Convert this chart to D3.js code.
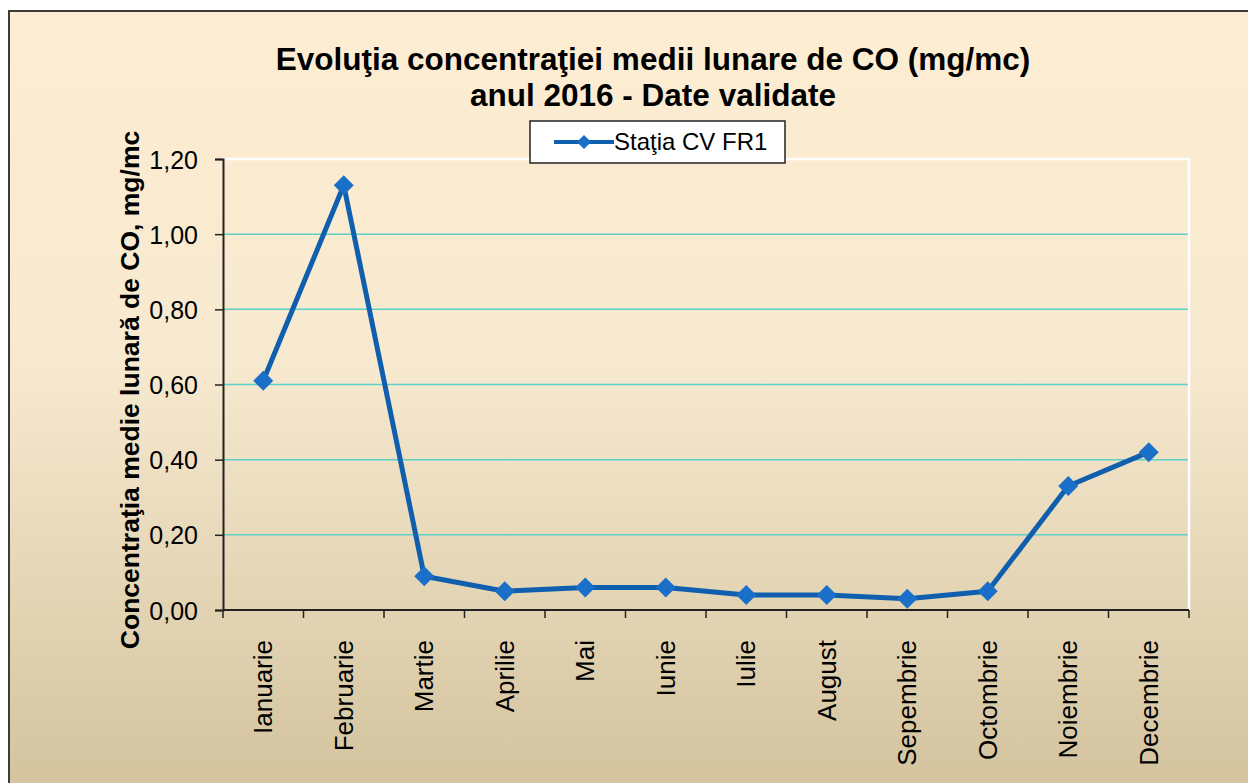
<!DOCTYPE html>
<html>
<head>
<meta charset="utf-8">
<script src="https://cdn.jsdelivr.net/npm/d3@7"></script>
<style>
	body { margin: 0; background: #ffffff; }
	svg { display: block; }
	text { font-family: "Liberation Sans", Arial, sans-serif; fill: #000; }
</style>
</head>
<body>
<svg id="chart" width="1248" height="783"></svg>
<script>
// date
var luni = ["Ianuarie", "Februarie", "Martie", "Aprilie", "Mai", "Iunie",
	"Iulie", "August", "Sepembrie", "Octombrie", "Noiembrie", "Decembrie"];
var valori = [0.61, 1.13, 0.09, 0.05, 0.06, 0.06, 0.04, 0.04, 0.03, 0.05, 0.33, 0.42];
var yTicks = [0, 0.2, 0.4, 0.6, 0.8, 1.0, 1.2];
var titlu = ["Evoluţia concentraţiei medii lunare de CO (mg/mc)", "anul 2016 - Date validate"];
var serie = "Staţia CV FR1";
var titluY = "Concentraţia medie lunară de CO, mg/mc";

var svg = d3.select("#chart");
var pLeft = 223, pTop = 159, pRight = 1189, pBottom = 610;
var lineColor = "#105fae";
var markerColor = "#1a6fc8";

var defs = svg.append("defs");
var grad = defs.append("linearGradient")
	.attr("id", "fundal")
	.attr("x1", 0).attr("y1", 0)
	.attr("x2", 0).attr("y2", 1);
grad.append("stop").attr("offset", "0%").attr("stop-color", "#fdedd2");
grad.append("stop").attr("offset", "45%").attr("stop-color", "#f7e9cf");
grad.append("stop").attr("offset", "100%").attr("stop-color", "#d2c29d");

// cadrul exterior
svg.append("rect")
	.attr("x", 9).attr("y", 11)
	.attr("width", 1260).attr("height", 790)
	.attr("fill", "url(#fundal)")
	.attr("stroke", "#3c3c3c")
	.attr("stroke-width", 2);

var x = d3.scaleBand().domain(luni).range([pLeft, pRight]);
var y = d3.scaleLinear().domain([0, 1.2]).range([pBottom, pTop]);

// gridlines
svg.append("g")
	.selectAll("line")
	.data(yTicks.slice(1, -1))
	.join("line")
	.attr("x1", pLeft).attr("x2", pRight)
	.attr("y1", function(d) { return y(d); })
	.attr("y2", function(d) { return y(d); })
	.attr("stroke", "#5ccfc6")
	.attr("stroke-width", 1.5);

// chenar alb al zonei de desen
svg.append("path")
	.attr("d", "M" + pLeft + "," + pTop + "L" + pRight + "," + pTop + "L" + pRight + "," + pBottom)
	.attr("fill", "none")
	.attr("stroke", "#ffffff")
	.attr("stroke-width", 2.5);

// axa Y
var yAxis = svg.append("g")
	.attr("transform", "translate(" + pLeft + ",0)")
	.call(d3.axisLeft(y)
		.tickValues(yTicks)
		.tickSize(8)
		.tickPadding(17)
		.tickFormat(function(d) { return d3.format(".2f")(d).replace(".", ","); }));
yAxis.select(".domain").attr("stroke", "#222").attr("stroke-width", 2);
yAxis.selectAll(".tick line").attr("stroke", "#222").attr("stroke-width", 1.5);
yAxis.selectAll(".tick text")
	.style("font-family", "Liberation Sans, Arial, sans-serif")
	.style("font-size", "25px")
	.attr("fill", "#000")
	.attr("dy", "0.36em");

// axa X - ticks la marginile categoriilor
var xAxis = svg.append("g")
	.attr("transform", "translate(0," + pBottom + ")");
xAxis.append("line")
	.attr("x1", pLeft).attr("x2", pRight)
	.attr("stroke", "#222").attr("stroke-width", 2);
xAxis.selectAll(".tk")
	.data(luni.concat(["_"]))
	.join("line")
	.attr("class", "tk")
	.attr("x1", function(d, i) { return pLeft + i * x.bandwidth(); })
	.attr("x2", function(d, i) { return pLeft + i * x.bandwidth(); })
	.attr("y1", 0).attr("y2", 8)
	.attr("stroke", "#222").attr("stroke-width", 1.5);
xAxis.selectAll(".lbl")
	.data(luni)
	.join("text")
	.attr("class", "lbl")
	.attr("transform", function(d) {
		return "translate(" + (x(d) + x.bandwidth() / 2 + 9) + ",30) rotate(-90)";
	})
	.attr("text-anchor", "end")
	.style("font-size", "26px")
	.text(function(d) { return d; });

// linia seriei
var linie = d3.line()
	.x(function(d, i) { return x(luni[i]) + x.bandwidth() / 2; })
	.y(function(d) { return y(d); });

svg.append("path")
	.datum(valori)
	.attr("d", linie)
	.attr("fill", "none")
	.attr("stroke", lineColor)
	.attr("stroke-width", 5)
	.attr("stroke-linejoin", "round");

svg.append("g")
	.selectAll("path")
	.data(valori)
	.join("path")
	.attr("transform", function(d, i) {
		return "translate(" + (x(luni[i]) + x.bandwidth() / 2) + "," + y(d) + ") rotate(45)";
	})
	.attr("d", d3.symbol().type(d3.symbolSquare).size(200))
	.attr("fill", markerColor);

// legenda
var leg = svg.append("g").attr("transform", "translate(530,121)");
leg.append("rect")
	.attr("width", 255).attr("height", 42)
	.attr("fill", "#ffffff")
	.attr("stroke", "#222").attr("stroke-width", 1.5);
leg.append("line")
	.attr("x1", 24).attr("x2", 84)
	.attr("y1", 21).attr("y2", 21)
	.attr("stroke", lineColor).attr("stroke-width", 4);
leg.append("path")
	.attr("transform", "translate(54,21) rotate(45)")
	.attr("d", d3.symbol().type(d3.symbolSquare).size(100))
	.attr("fill", markerColor);
leg.append("text")
	.attr("x", 84).attr("y", 29)
	.style("font-size", "24px")
	.text(serie);

// titlu
svg.append("g")
	.selectAll("text")
	.data(titlu)
	.join("text")
	.attr("x", 653)
	.attr("y", function(d, i) { return 70 + i * 36; })
	.attr("text-anchor", "middle")
	.style("font-size", "31.5px")
	.style("font-weight", "bold")
	.text(function(d) { return d; });

// titlu axa Y
svg.append("text")
	.attr("transform", "translate(139,390) rotate(-90)")
	.attr("text-anchor", "middle")
	.style("font-size", "26.5px")
	.style("font-weight", "bold")
	.text(titluY);
</script>
</body>
</html>
